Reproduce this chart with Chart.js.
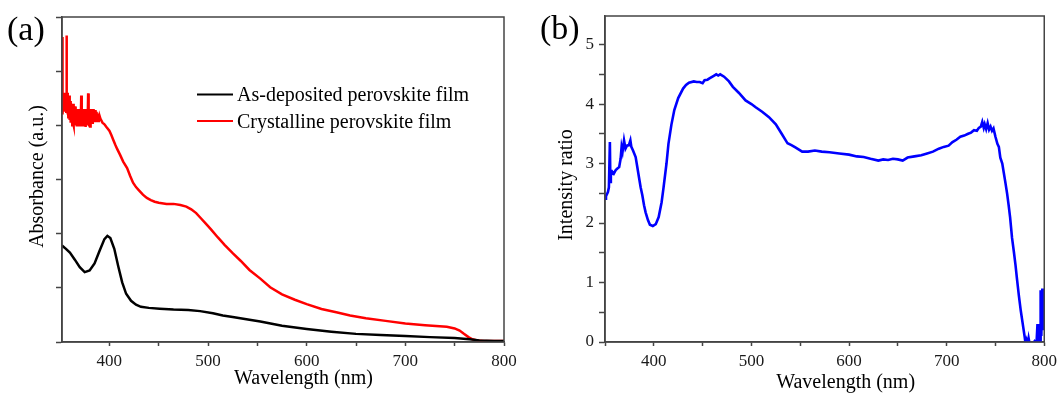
<!DOCTYPE html>
<html>
<head>
<meta charset="utf-8">
<script src="https://cdn.jsdelivr.net/npm/chart.js@4/dist/chart.umd.min.js"></script>
<style>
  html, body { margin: 0; padding: 0; background: #fff; }
  #wrap { position: relative; width: 1062px; height: 394px; overflow: hidden; }
  #panelA { position: absolute; left: 0; top: 0; }
  #panelB { position: absolute; left: 530px; top: 0; }
</style>
</head>
<body>
<div id="wrap">
  <canvas id="panelA" width="530" height="394"></canvas>
  <canvas id="panelB" width="532" height="394"></canvas>
</div>
<script>
// ---- (a) absorbance spectra ----
const asDepWl = [352, 356, 360, 365, 370, 375, 380, 385, 390, 395,
                 398, 401, 405, 409, 413, 417, 422, 427, 432, 440,
                 451, 465, 480, 492, 505, 515, 525, 542, 553, 575,
                 600, 625, 650, 675, 700, 725, 750, 765, 775, 790, 800];
const asDepAbs = [1.78, 1.72, 1.65, 1.52, 1.38, 1.29, 1.32, 1.45, 1.68, 1.9,
                  1.96, 1.92, 1.72, 1.4, 1.1, 0.89, 0.76, 0.69, 0.65, 0.63,
                  0.615, 0.60, 0.59, 0.57, 0.53, 0.49, 0.46, 0.41, 0.38, 0.30,
                  0.24, 0.19, 0.15, 0.13, 0.11, 0.09, 0.074, 0.05, 0.03, 0.02, 0.02];

const crystWl = [352.0, 352.3, 352.5, 352.8, 353.1, 353.4, 353.7, 354.0, 354.4, 354.8,
                 355.2, 355.6, 356.0, 356.3, 356.6, 356.9, 357.2, 357.6, 358.0, 358.4,
                 358.8, 359.2, 359.6, 360.0, 360.4, 360.8, 361.2, 361.6, 362.0, 362.4,
                 362.8, 363.2, 363.6, 364.0, 364.4, 364.8, 365.2, 365.6, 366.0, 366.4,
                 366.8, 367.2, 367.6, 368.0, 368.4, 368.8, 369.2, 369.6, 370.0, 370.4,
                 370.8, 371.2, 371.5, 371.8, 372.2, 372.6, 373.0, 373.4, 373.8, 374.2,
                 374.6, 375.0, 375.4, 375.8, 376.2, 376.6, 377.0, 377.4, 377.8, 378.2,
                 378.5, 378.8, 379.2, 379.6, 380.0, 380.4, 380.8, 381.2, 381.6, 382.0,
                 382.4, 382.8, 383.2, 383.6, 384.0, 384.5, 385.0, 385.5, 386.0, 386.5,
                 387.0, 387.5, 388.0, 388.5, 389.0, 389.5, 390.0, 391.0, 393.0, 395.0,
                 397, 400, 402, 404, 406, 408, 411, 414, 418, 421,
                 424, 427, 430, 434, 438, 442, 446, 450, 458, 465,
                 472, 478, 483, 488, 493, 498, 503, 510, 517, 525,
                 533, 542, 553, 563, 575, 588, 600, 615, 630, 644,
                 660, 680, 700, 720, 742, 750, 755, 759, 764, 768,
                 773, 780, 800];
const crystAbs = [4.35, 4.6, 5.63, 4.2, 4.55, 4.25, 4.6, 4.3, 4.58, 4.25,
                  4.6, 4.3, 4.55, 4.25, 5.66, 4.4, 4.6, 4.2, 4.55, 4.15,
                  4.5, 4.2, 4.55, 4.1, 4.45, 4.05, 4.4, 4.1, 4.35, 4.0,
                  4.3, 4.05, 4.4, 4.0, 4.3, 4.05, 4.35, 4.0, 4.3, 4.05,
                  4.25, 3.98, 4.3, 4.05, 4.25, 3.98, 4.3, 4.05, 4.3, 4.0,
                  4.25, 4.05, 4.55, 4.05, 4.3, 4.0, 4.3, 4.05, 4.28, 3.98,
                  4.25, 4.05, 4.3, 3.97, 4.28, 4.02, 4.3, 4.05, 4.25, 4.05,
                  4.59, 4.1, 4.3, 4.0, 4.3, 3.98, 4.28, 4.02, 4.3, 4.05,
                  4.28, 4.05, 4.3, 4.08, 4.3, 4.1, 4.28, 4.08, 4.28, 4.1,
                  4.25, 4.1, 4.22, 4.08, 4.2, 4.1, 4.18, 4.12, 4.05, 4.02,
                  3.97, 3.9, 3.82, 3.73, 3.64, 3.56, 3.45, 3.33, 3.21, 3.07,
                  2.94, 2.86, 2.8, 2.72, 2.66, 2.62, 2.59, 2.57, 2.55, 2.55,
                  2.53, 2.5, 2.45, 2.38, 2.28, 2.18, 2.08, 1.93, 1.79, 1.64,
                  1.5, 1.33, 1.17, 1.01, 0.88, 0.78, 0.70, 0.61, 0.55, 0.49,
                  0.44, 0.39, 0.34, 0.31, 0.28, 0.25, 0.21, 0.155, 0.09, 0.05,
                  0.03, 0.02, 0.02];

// ---- (b) intensity ratio ----
const ratioWl = [350, 351, 353, 354, 355, 355.5, 356, 357.5, 359, 361,
                 363, 364.5, 366, 367, 368, 369.5, 371, 372.5, 374.5, 376,
                 377, 378.7, 381.4, 383, 384.8, 386.5, 388.2, 390, 391.6, 394,
                 396, 399, 402, 405, 408, 410, 413, 415, 418, 421,
                 425, 430, 433, 436, 441, 444, 447, 450, 452, 455,
                 457, 461, 464, 466, 468, 472, 477, 481, 487, 494,
                 500, 504, 511, 518, 525, 531, 537, 541, 545, 552,
                 558, 565, 572, 580, 590, 600, 608, 615, 622, 630,
                 635, 640, 645, 650, 655, 660, 667, 674, 680, 686,
                 692, 697, 702, 706, 710, 714, 718, 722, 725, 728,
                 731, 733, 735, 736.5, 738, 739, 740.5, 742, 743.5, 745,
                 746.5, 748, 750, 752, 753.5, 755, 757, 758.5, 760, 762,
                 763.5, 765, 767, 769, 770.5, 772, 774, 776, 778, 780,
                 781, 782, 783, 784, 785, 787, 790, 792, 793, 794.5,
                 795, 796, 796.3, 797, 798, 799, 800];
const ratioVal = [2.41, 2.45, 2.52, 2.6, 3.36, 2.69, 2.8, 2.86, 2.83, 2.89,
                  2.92, 2.94, 3.08, 3.28, 3.2, 3.39, 3.25, 3.3, 3.31, 3.39,
                  3.28, 3.22, 3.11, 2.95, 2.77, 2.6, 2.47, 2.3, 2.18, 2.05,
                  1.97, 1.95, 1.98, 2.1, 2.35, 2.6, 3.0, 3.33, 3.65, 3.9,
                  4.1, 4.26, 4.32, 4.36, 4.38, 4.37, 4.37, 4.35, 4.4, 4.41,
                  4.43, 4.47, 4.5, 4.48, 4.5, 4.46, 4.38, 4.29, 4.19, 4.06,
                  4.0, 3.95, 3.87, 3.78, 3.66, 3.5, 3.34, 3.31, 3.27, 3.2,
                  3.2, 3.22, 3.2, 3.19, 3.17, 3.15, 3.12, 3.11, 3.08, 3.05,
                  3.07, 3.06, 3.08, 3.07, 3.05, 3.1, 3.12, 3.14, 3.17, 3.2,
                  3.25, 3.28, 3.3, 3.36, 3.4, 3.45, 3.47, 3.5, 3.52, 3.56,
                  3.55, 3.6, 3.62, 3.70, 3.6, 3.66, 3.58, 3.68, 3.57, 3.62,
                  3.55, 3.59, 3.45, 3.33, 3.28, 3.1, 3.0, 2.85, 2.7, 2.49,
                  2.3, 2.1, 1.75, 1.5, 1.3, 1.07, 0.78, 0.52, 0.3, 0.08,
                  -0.05, 0.02, -0.05, 0.06, -0.03, -0.05, 0.01, -0.05, 0.28, 0.28,
                  -0.05, 0.0, 0.87, 0.1, 0.9, 0.2, 0.9];

// ---- tick positions ----
const ticksXA = [400, 450, 500, 550, 600, 650, 700, 750, 800];
const ticksXB = [350, 400, 450, 500, 550, 600, 650, 700, 750, 800];
const ticksYA = [0, 1, 2, 3, 4, 5, 6];
const ticksYB = [0, 0.5, 1, 1.5, 2, 2.5, 3, 3.5, 4, 4.5, 5];

const SERIF = '"Liberation Serif", "Times New Roman", serif';
const AXIS = '#444';

const pairs = (xs, ys) => xs.map((x, i) => ({ x: x, y: ys[i] }));

// Frame, panel tag, axis captions and an inline legend
const panelDecor = {
  id: 'panelDecor',
  afterDraw(chart, args, o) {
    const { ctx, chartArea: a } = chart;
    ctx.save();
    ctx.strokeStyle = AXIS;
    ctx.lineWidth = 1.5;
    ctx.strokeRect(a.left, a.top, a.right - a.left, a.bottom - a.top);

    ctx.fillStyle = '#000';
    ctx.textBaseline = 'alphabetic';
    ctx.textAlign = 'left';
    ctx.font = '34px ' + SERIF;
    ctx.fillText(o.tag, o.tagX, o.tagY);

    ctx.font = '20px ' + SERIF;
    ctx.textAlign = 'center';
    ctx.fillText(o.xTitle, (a.left + a.right) / 2 + o.xDx, a.bottom + o.xDy);

    ctx.save();
    ctx.translate(a.left + o.yDx, (a.top + a.bottom) / 2 + o.yDy);
    ctx.rotate(-Math.PI / 2);
    ctx.fillText(o.yTitle, 0, 0);
    ctx.restore();

    if (o.legend) {
      const L = o.legend;
      ctx.font = '20px ' + SERIF;
      ctx.textAlign = 'left';
      chart.data.datasets.forEach((ds, i) => {
        const y = L.y + i * L.gap;
        ctx.strokeStyle = ds.borderColor;
        ctx.lineWidth = 2;
        ctx.beginPath();
        ctx.moveTo(L.x, y);
        ctx.lineTo(L.x + L.len, y);
        ctx.stroke();
        ctx.fillStyle = '#000';
        ctx.fillText(ds.label, L.x + L.len + 4, y + 6.5);
      });
    }
    ctx.restore();
  }
};

function xScale(min, ticks, height) {
  return {
    type: 'linear', min: min, max: 800,
    afterBuildTicks: s => { s.ticks = ticks.map(v => ({ value: v })); },
    afterFit: s => { s.height = height; },
    grid: { drawOnChartArea: false, drawTicks: true, tickLength: 4, tickColor: AXIS, tickWidth: 1.5 },
    border: { display: true, color: AXIS, width: 1.5 },
    ticks: {
      padding: 5, color: '#1a1a1a', maxRotation: 0, autoSkip: false,
      font: { family: SERIF, size: 17 },
      callback: v => (v % 100 === 0 ? String(v) : '')
    }
  };
}

function yScale(max, ticks, width, labelFn) {
  return {
    type: 'linear', min: 0, max: max,
    afterBuildTicks: s => { s.ticks = ticks.map(v => ({ value: v })); },
    afterFit: s => { s.width = width; },
    grid: { drawOnChartArea: false, drawTicks: true, tickLength: 6, tickColor: AXIS, tickWidth: 1.5 },
    border: { display: true, color: AXIS, width: 1.5 },
    ticks: {
      padding: 5, color: '#1a1a1a', autoSkip: false,
      font: { family: SERIF, size: 17 },
      callback: labelFn
    }
  };
}

const common = {
  responsive: false,
  animation: false,
  elements: { point: { radius: 0 }, line: { tension: 0, borderWidth: 2.5 } },
  plugins: { legend: { display: false }, tooltip: { enabled: false }, title: { display: false } }
};

new Chart(document.getElementById('panelA'), {
  type: 'line',
  data: {
    datasets: [
      { label: 'As-deposited perovskite film', data: pairs(asDepWl, asDepAbs), borderColor: '#000000', borderWidth: 2.5 },
      { label: 'Crystalline perovskite film', data: pairs(crystWl, crystAbs), borderColor: '#ff0000', borderWidth: 2.5 }
    ]
  },
  options: Object.assign({}, common, {
    layout: { padding: { top: 17, right: 26, bottom: 0, left: 0 } },
    scales: {
      x: xScale(352, ticksXA, 52),
      y: yScale(6, ticksYA, 62, () => '')
    },
    plugins: Object.assign({}, common.plugins, {
      panelDecor: {
        tag: '(a)', tagX: 7, tagY: 40,
        xTitle: 'Wavelength (nm)', xDx: 20.5, xDy: 42,
        yTitle: 'Absorbance (a.u.)', yDx: -19, yDy: -3,
        legend: { x: 197, y: 94.5, gap: 26.5, len: 36 }
      }
    })
  }),
  plugins: [panelDecor]
});

new Chart(document.getElementById('panelB'), {
  type: 'line',
  data: {
    datasets: [
      { label: 'Intensity ratio', data: pairs(ratioWl, ratioVal), borderColor: '#0000ff', borderWidth: 2.6 }
    ]
  },
  options: Object.assign({}, common, {
    layout: { padding: { top: 16, right: 15, bottom: 0, left: 0 } },
    scales: {
      x: xScale(350, ticksXB, 52),
      y: yScale(5.48, ticksYB, 75, v => (Number.isInteger(v) ? String(v) : ''))
    },
    plugins: Object.assign({}, common.plugins, {
      panelDecor: {
        tag: '(b)', tagX: 10, tagY: 39,
        xTitle: 'Wavelength (nm)', xDx: 21, xDy: 46,
        yTitle: 'Intensity ratio', yDx: -33, yDy: 6
      }
    })
  }),
  plugins: [panelDecor]
});
</script>
</body>
</html>
